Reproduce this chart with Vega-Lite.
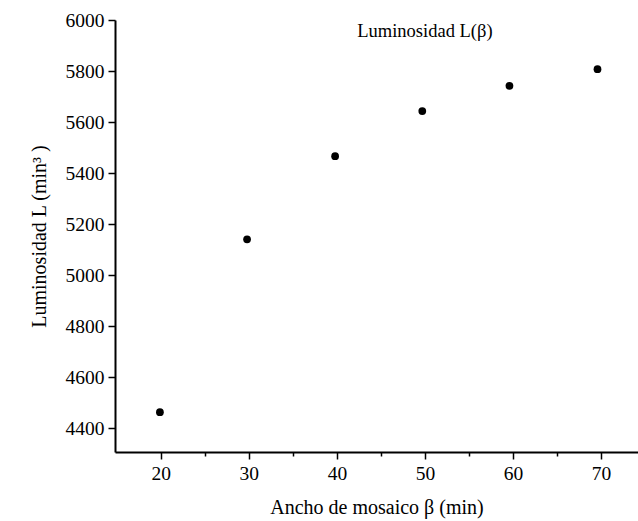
{
  "$schema": "https://vega.github.io/schema/vega-lite/v6.json",
  "width": 523,
  "height": 432,
  "autosize": "none",
  "padding": {"left": 115, "top": 20, "right": 0, "bottom": 69},
  "background": "white",
  "config": {
    "view": {"stroke": null},
    "font": "Liberation Serif"
  },
  "layer": [
    {
      "data": {"values": [
        {"beta": 19.9, "L": 4462},
        {"beta": 29.8, "L": 5140},
        {"beta": 39.8, "L": 5466},
        {"beta": 49.7, "L": 5643},
        {"beta": 59.6, "L": 5742},
        {"beta": 69.6, "L": 5807}
      ]},
      "mark": {"type": "point", "filled": true, "color": "black", "opacity": 1, "size": 60},
      "encoding": {
        "x": {
          "field": "beta", "type": "quantitative",
          "scale": {"domain": [14.8, 74.2], "nice": false, "zero": false},
          "axis": {
            "title": "Ancho de mosaico β  (min)",
            "values": [20, 25, 30, 35, 40, 45, 50, 55, 60, 65, 70],
            "labelExpr": "datum.value % 10 == 0 ? datum.label : ''",
            "tickSize": {"condition": {"test": "datum.value % 10 == 0", "value": 7}, "value": 4},
            "grid": false,
            "domainColor": "black", "domainWidth": 2,
            "tickColor": "black", "tickWidth": 1.5,
            "labelFont": "Liberation Serif", "labelFontSize": 19.5, "labelColor": "black",
            "labelPadding": 5,
            "titleFont": "Liberation Serif", "titleFontSize": 20, "titleFontWeight": "normal", "titleColor": "black",
            "titlePadding": 15
          }
        },
        "y": {
          "field": "L", "type": "quantitative",
          "scale": {"domain": [4306, 6000], "nice": false, "zero": false},
          "axis": {
            "title": "Luminosidad L  (min³ )",
            "values": [4400, 4500, 4600, 4700, 4800, 4900, 5000, 5100, 5200, 5300, 5400, 5500, 5600, 5700, 5800, 5900, 6000],
            "labelExpr": "datum.value % 200 == 0 ? datum.label : ''",
            "format": "d",
            "tickSize": {"condition": {"test": "datum.value % 200 == 0", "value": 7}, "value": 4},
            "grid": false,
            "domainColor": "black", "domainWidth": 2,
            "tickColor": "black", "tickWidth": 1.5,
            "labelFont": "Liberation Serif", "labelFontSize": 19.5, "labelColor": "black",
            "labelPadding": 4,
            "titleFont": "Liberation Serif", "titleFontSize": 20, "titleFontWeight": "normal", "titleColor": "black",
            "titlePadding": 16
          }
        }
      }
    },
    {
      "data": {"values": [{"beta": 50.0, "L": 5958, "label": "Luminosidad L(β)"}]},
      "mark": {"type": "text", "font": "Liberation Serif", "fontSize": 18.5, "color": "black", "align": "center", "baseline": "middle"},
      "encoding": {
        "x": {"field": "beta", "type": "quantitative"},
        "y": {"field": "L", "type": "quantitative"},
        "text": {"field": "label"}
      }
    }
  ]
}
